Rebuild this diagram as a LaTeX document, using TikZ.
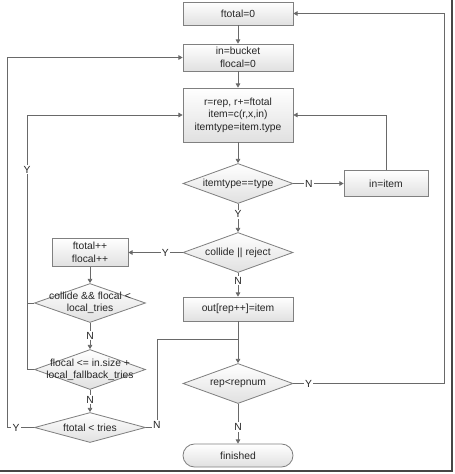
\documentclass[tikz,border=0pt]{standalone}
\usepackage{fontspec}
\setmainfont{Liberation Sans}
\usetikzlibrary{positioning}
\usetikzlibrary{arrows.meta}
\usetikzlibrary{shapes.geometric}

\definecolor{boxline}{RGB}{128,128,128}
\definecolor{flowline}{RGB}{105,105,105}
\definecolor{frameline}{RGB}{70,70,70}

\begin{document}
\begin{tikzpicture}[
            > = {Triangle[length=3.6pt,width=4pt]}, % arrow head style
            on grid, % distances are between centres
            flowline, line width=0.7pt, % line style
            font=\fontsize{8.8}{10.6}\selectfont
            ]

        \tikzstyle{proc}=[
            draw = boxline,
            top color = white, bottom color = black!12,
            text = black!85,
            align = center,
            minimum width = 3.3cm,
            inner sep = 2pt
        ]
        \tikzstyle{dec}=[
            diamond,
            draw = boxline,
            top color = white, bottom color = black!12,
            minimum width = 3.3cm,
            minimum height = 1.2cm,
            inner sep = 0pt
        ]
        \tikzstyle{term}=[proc, rounded corners = 0.345cm, minimum height = 0.69cm]
        \tikzstyle{dtext}=[text = black!85, align = center, inner sep = 0pt]
        \tikzstyle{yn}=[fill = white, text = black!85, inner sep = 1pt]

        \useasboundingbox (0,0) rectangle (13.65,-14.22);

	% main column
	\node[proc, minimum height=0.69cm] (init) at (7.14,-0.405) {ftotal=0};
	\node[proc, minimum height=0.81cm] (bucket) [below=1.32cm of init] {in=bucket\\flocal=0};
	\node[proc, minimum height=1.62cm] (pick) [below=1.725cm of bucket] {r=rep, r+=ftotal\\item=c(r,x,in)\\itemtype=item.type};
	\node[dec, label={[dtext]center:{itemtype==type}}] (typ) [below=2.055cm of pick] {};
	\node[dec, label={[dtext]center:{collide || reject}}] (rej) [below=2.07cm of typ] {};
	\node[proc, minimum height=0.72cm] (out) [below=1.695cm of rej] {out[rep++]=item};
	\node[dec, label={[dtext]center:{rep<repnum}}] (more) [below=2.235cm of out] {};
	\node[term] (fin) [below=2.16cm of more] {finished};

         % side nodes
         \node[proc, minimum width=2.52cm, minimum height=0.78cm] (swap) [right=4.44cm of typ] {in=item};
         \node[proc, minimum width=2.28cm, minimum height=0.84cm] (inc) [left=4.44cm of rej] {ftotal++\\flocal++};
         \node[dec, minimum width=3.33cm, minimum height=1.17cm, label={[dtext]center:{collide \&\& flocal <\\local\_tries}}] (loc) [below=1.515cm of inc] {};
         \node[dec, minimum width=3.33cm, label={[dtext]center:{flocal <= in.size +\\local\_fallback\_tries}}] (fb) [below=1.995cm of loc] {};
         \node[dec, minimum width=3.33cm, minimum height=0.9cm, label={[dtext]center:{ftotal < tries}}] (tries) [below=1.74cm of fb] {};

         % corners of the loops
         \coordinate (yjoin) at ([xshift=-0.21cm]loc.west);
         \coordinate (yback) at ([xshift=-0.81cm]tries.west);
         \coordinate (ncorner) at ([xshift=0.33cm]tries.east);
         \coordinate (njoin) at ([yshift=-0.54cm]out.south);
         \coordinate (yloop) at ([xshift=4.53cm]more.east);

         % connectors
         \path[->] (init) edge node {} (bucket);
         \path[->] (bucket) edge node {} (pick);
         \path[->] (pick) edge node {} (typ);
         \path[->] (typ) edge node[yn, pos=0.31] {N} (swap);
         \draw[->] (swap) |- (pick);
         \path[->] (typ) edge node[yn, pos=0.37] {Y} (rej);
         \path[->] (rej) edge node[yn, pos=0.32] {Y} (inc);
         \path[->] (rej) edge node[yn, pos=0.32] {N} (out);
         \path[->] (inc) edge node {} (loc);
         \draw (fb) -| (yjoin);
         \draw[->] (loc) -- (yjoin) |- node[yn, pos=0.355] {Y} (pick);
         \path[->] (loc) edge node[yn, pos=0.48] {N} (fb);
         \path[->] (fb) edge node[yn, pos=0.43] {N} (tries);
         \draw[->] (tries) -- node[yn, pos=0.67] {Y} (yback) |- (bucket);
         \draw (tries.east) -- (ncorner) node[yn, yshift=2pt] {N} |- (njoin);
         \path[->] (out) edge node {} (more);
         \draw[->] (more) -- node[yn, pos=0.1] {Y} (yloop) |- (init);
         \path[->] (more) edge node[yn, pos=0.58] {N} (fin);

         % frame shadow
         \draw[frameline, line width=0.06cm] (13.56,0) -- (13.56,-14.13) -- (0,-14.13);

  \end{tikzpicture}
\end{document}
